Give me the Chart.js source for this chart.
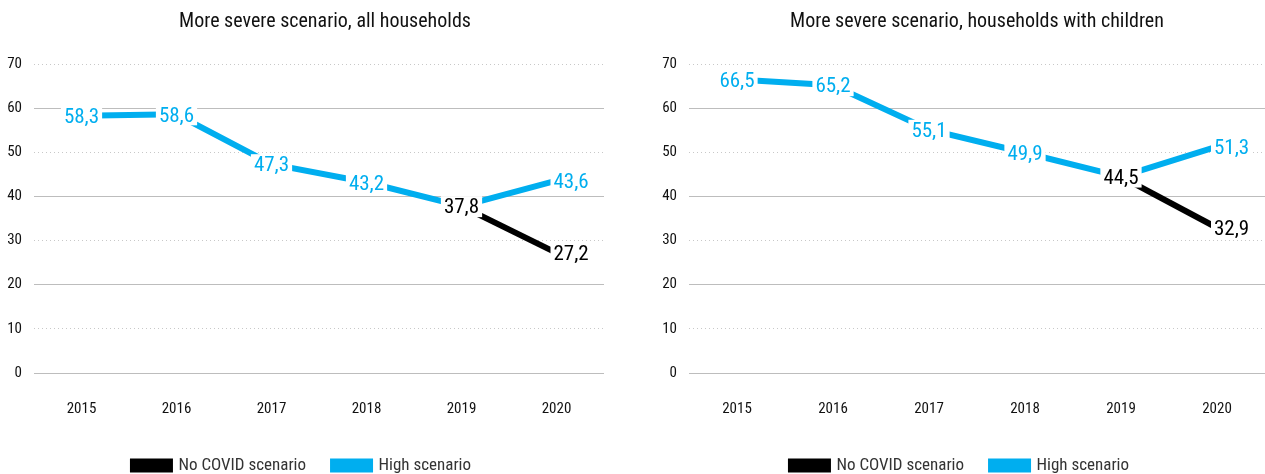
<!DOCTYPE html>
<html>
<head>
<meta charset="utf-8">
<script src="https://cdn.jsdelivr.net/npm/chart.js@4.4.0/dist/chart.umd.min.js"></script>
<style>
  body { margin: 0; background: #fff; }
  .box { position: absolute; top: 0; height: 474px; }
  #left { left: 0; width: 632px; }
  #right { left: 632px; width: 633px; }
</style>
</head>
<body>
<div class="box" id="left"><canvas id="chartAll"></canvas></div>
<div class="box" id="right"><canvas id="chartKids"></canvas></div>
<script>
const years = ['2015', '2016', '2017', '2018', '2019', '2020'];
const yTicks = [0, 10, 20, 30, 40, 50, 60, 70];
const allHigh = [58.3, 58.6, 47.3, 43.2, 37.8, 43.6];
const allNoCovid = [null, null, null, null, 37.8, 27.2];
const kidsHigh = [66.5, 65.2, 55.1, 49.9, 44.5, 51.3];
const kidsNoCovid = [null, null, null, null, 44.5, 32.9];

const FONT = '"Liberation Sans Narrow", "Roboto Condensed", "DejaVu Sans Condensed", sans-serif';
const BLUE = '#00aeef';

// value labels on a white patch, cutting the line like the original
const valueLabels = {
	id: 'valueLabels',
	afterLayout(chart) {
		// centre the title where the original has it
		const c = chart.options.titleCenter;
		if (c != null && chart.titleBlock) {
			chart.titleBlock.left = c - 250;
			chart.titleBlock.right = c + 250;
		}
	},
	afterDatasetsDraw(chart) {
		const ctx = chart.ctx;
		const sets = chart.data.datasets;
		ctx.save();
		ctx.font = '21px ' + FONT;
		ctx.textBaseline = 'middle';
		ctx.textAlign = 'left';
		sets.forEach((ds, di) => {
			const meta = chart.getDatasetMeta(di);
			meta.data.forEach((pt, i) => {
				const v = ds.data[i];
				if (v == null) return;
				if (di === 1 && sets[0].data[i] === v) return;
				const txt = v.toFixed(1).replace('.', ',');
				const w = ctx.measureText(txt).width;
				const last = i === ds.data.length - 1;
				const x = last ? pt.x - 3 : pt.x - w / 2;
				ctx.fillStyle = '#fff';
				ctx.fillRect(x - 3, pt.y - 10, w + 6, 21);
				ctx.fillStyle = ds.borderColor;
				ctx.fillText(txt, x, pt.y + 2);
			});
		});
		ctx.restore();
	},
};

function makeChart(id, title, high, noCovid, padLeft, padRight, titleCenter) {
	new Chart(document.getElementById(id), {
		type: 'line',
		data: {
			labels: years,
			datasets: [
				{
					label: 'No COVID scenario',
					data: noCovid,
					borderColor: '#000',
					backgroundColor: '#000',
					borderWidth: 6,
					pointRadius: 0,
					tension: 0,
				},
				{
					label: 'High scenario',
					data: high,
					borderColor: BLUE,
					backgroundColor: BLUE,
					borderWidth: 6,
					pointRadius: 0,
					tension: 0,
				},
			],
		},
		options: {
			responsive: true,
			maintainAspectRatio: false,
			animation: false,
			titleCenter: titleCenter,
			layout: { padding: { left: padLeft, right: padRight, top: 0, bottom: 0 } },
			plugins: {
				title: {
					display: true,
					text: title,
					color: '#111',
					font: { family: FONT, size: 20, weight: 'normal' },
					padding: { top: 10, bottom: 30 },
				},
				legend: {
					position: 'bottom',
					maxHeight: 44,
					labels: {
						boxWidth: 37,
						boxHeight: 8,
						padding: 27,
						color: '#333',
						font: { family: FONT, size: 17 },
					},
				},
				tooltip: { enabled: false },
			},
			scales: {
				x: {
					offset: true,
					grid: { display: false },
					border: { display: false },
					ticks: { padding: 19, color: '#111', font: { family: FONT, size: 15 } },
					afterFit: (s) => { s.height = 57; },
				},
				y: {
					min: 0,
					max: 70,
					afterBuildTicks: (s) => { s.ticks = yTicks.map((v) => ({ value: v })); },
					grid: {
						drawTicks: false,
						color: (c) => (c.tick && c.tick.value % 20 === 0 ? '#bdbdbd' : '#c8c8c8'),
					},
					border: {
						display: false,
						dash: (c) => (c.tick && c.tick.value % 20 === 0 ? [] : [1, 3]),
					},
					ticks: { padding: 12, color: '#111', font: { family: FONT, size: 15 } },
					afterFit: (s) => { s.width = 34; },
				},
			},
		},
		plugins: [valueLabels],
	});
}

makeChart('chartAll', 'More severe scenario, all households', allHigh, allNoCovid, 0, 28, 325);
makeChart('chartKids', 'More severe scenario, households with children', kidsHigh, kidsNoCovid, 23, 0, 345);
</script>
</body>
</html>
